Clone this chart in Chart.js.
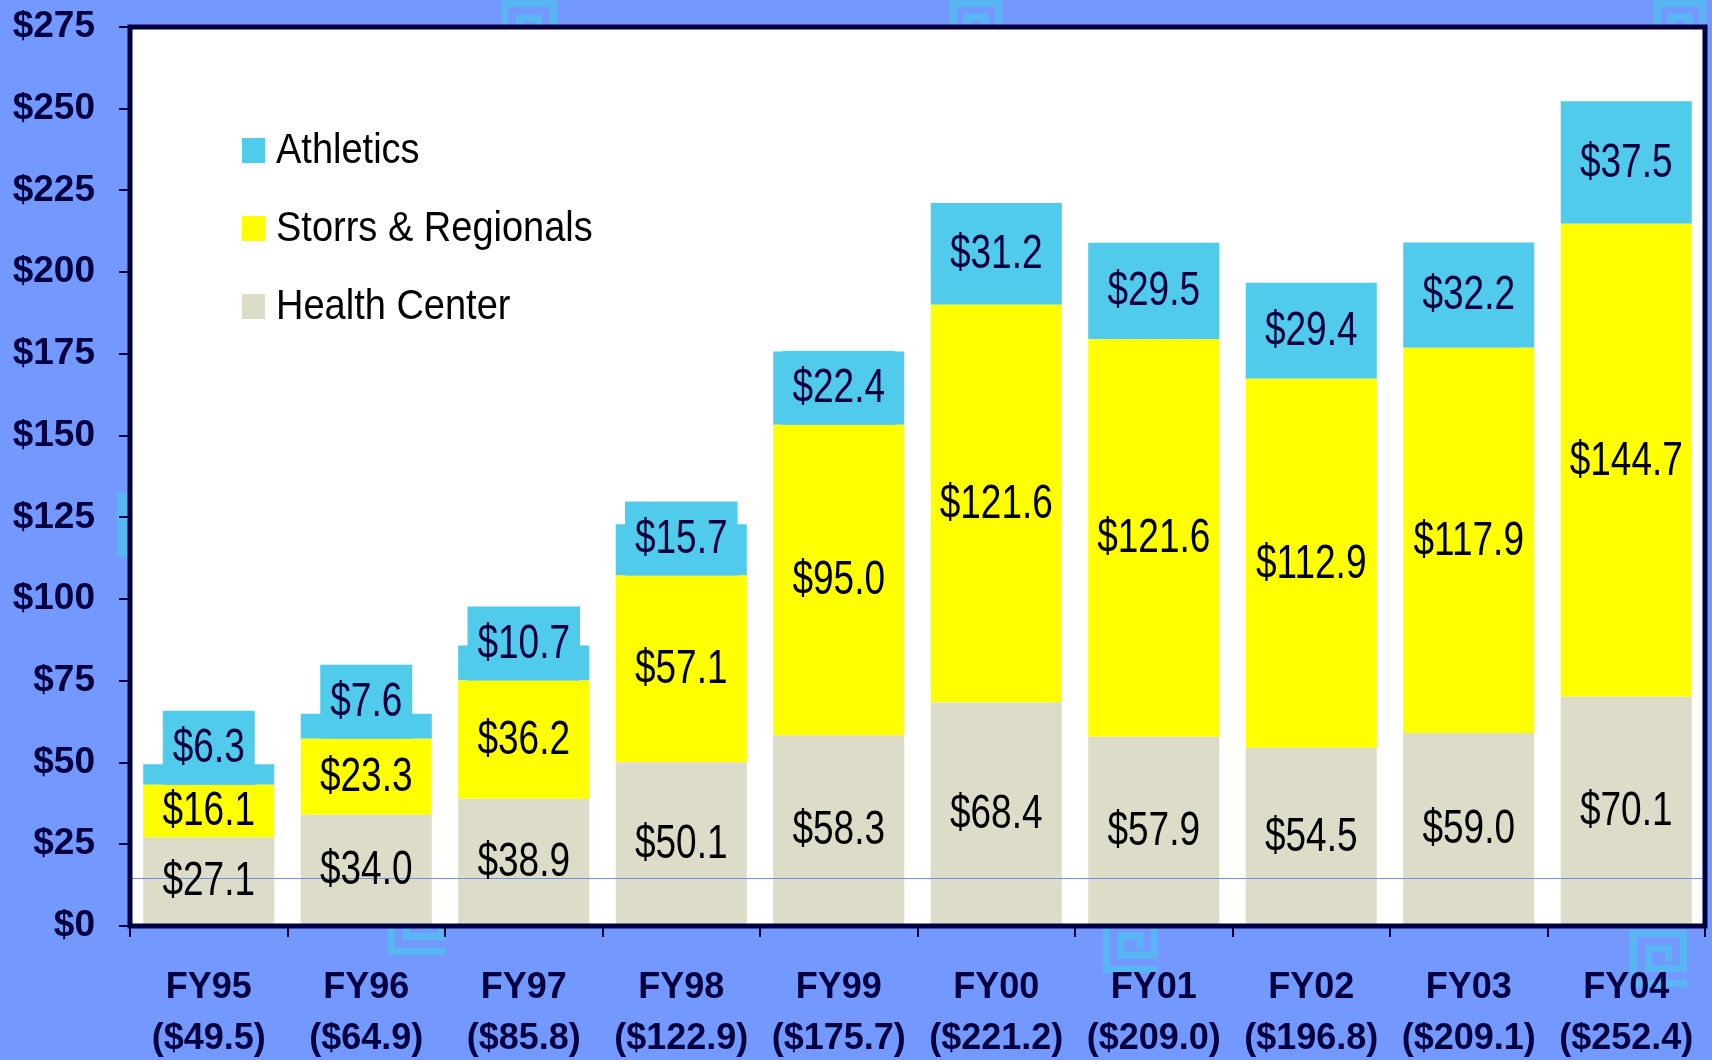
<!DOCTYPE html>
<html>
<head>
<meta charset="utf-8">
<script src="https://cdn.jsdelivr.net/npm/chart.js@4/dist/chart.umd.min.js"></script>
<style>
  html,body{margin:0;padding:0;background:#7399ff;overflow:hidden}
  canvas{display:block}
</style>
</head>
<body>
<canvas id="chart" width="1712" height="1060"></canvas>
<script>
// === DATA ===
const categories      = ['FY95','FY96','FY97','FY98','FY99','FY00','FY01','FY02','FY03','FY04'];
const totalLabels     = ['($49.5)','($64.9)','($85.8)','($122.9)','($175.7)','($221.2)','($209.0)','($196.8)','($209.1)','($252.4)'];
const healthCenter    = [27.1, 34.0, 38.9, 50.1, 58.3, 68.4, 57.9, 54.5, 59.0, 70.1];
const storrsRegionals = [16.1, 23.3, 36.2, 57.1, 95.0, 121.6, 121.6, 112.9, 117.9, 144.7];
const athletics       = [6.3, 7.6, 10.7, 15.7, 22.4, 31.2, 29.5, 29.4, 32.2, 37.5];
const yMin = 0, yMax = 275, yStep = 25;
const stripeValue = 14.7;   // thin blue line across the plot in the original

// Colors / fonts
const NAVY = '#000040';
const BG = '#7399ff';
const DECOR = '#58b6f2';
const FONT = "'Liberation Sans', Arial, sans-serif";
const COLORS = { athletics:'#50cbeb', storrs:'#ffff00', health:'#dddcc8' };

// Background greek-key bits (decoration only)
const decorKeys = [[501,0,56],[950,0,52],[1654,0,52],[388,898,57],[1103,918,55],[1630,930,57]];
const decorBars = [[117,493,10,64]];

function greekKey(ctx, x, y, s){
  ctx.beginPath();
  ctx.moveTo(x+s, y+s); ctx.lineTo(x, y+s); ctx.lineTo(x, y); ctx.lineTo(x+s, y);
  ctx.lineTo(x+s, y+0.7*s); ctx.lineTo(x+0.3*s, y+0.7*s); ctx.lineTo(x+0.3*s, y+0.3*s);
  ctx.lineTo(x+0.7*s, y+0.3*s); ctx.lineTo(x+0.7*s, y+0.5*s);
  ctx.stroke();
}

// text with a bit of vertical stretch (original slide is squeezed)
function stretchText(ctx, txt, x, y, sy){
  ctx.save(); ctx.translate(x, y); ctx.scale(1, sy); ctx.fillText(txt, 0, 0); ctx.restore();
}

// fixed axis sizes, no extra label padding around the plot
function fixSize(prop, val){
  return (s)=>{ s[prop] = val; s.paddingTop = s.paddingBottom = s.paddingLeft = s.paddingRight = 0; };
}

// Background, decor, white plot area
const backdrop = {
  id:'backdrop',
  beforeDraw(chart){
    const {ctx, chartArea:a, width, height} = chart;
    ctx.save();
    ctx.fillStyle = BG; ctx.fillRect(0, 0, width, height);
    ctx.strokeStyle = DECOR; ctx.lineWidth = 7; ctx.lineCap = 'square';
    decorKeys.forEach(([x,y,s]) => greekKey(ctx, x+3.5, y+3.5, s-7));
    ctx.fillStyle = DECOR;
    decorBars.forEach(([x,y,w,h]) => ctx.fillRect(x, y, w, h));
    ctx.fillStyle = '#ffffff'; ctx.fillRect(a.left, a.top, a.right-a.left, a.bottom-a.top);
    ctx.restore();
  }
};

// Stripe, value labels, frame, legend
const overlay = {
  id:'overlay',
  afterDatasetsDraw(chart){
    const {ctx, chartArea:a, scales} = chart;
    ctx.save();
    const sy = Math.round(scales.y.getPixelForValue(stripeValue)) + 0.5;
    ctx.strokeStyle = '#6a92ff'; ctx.lineWidth = 1.2;
    ctx.beginPath(); ctx.moveTo(a.left, sy); ctx.lineTo(a.right, sy); ctx.stroke();

    ctx.font = `37px ${FONT}`;
    ctx.textAlign = 'center'; ctx.textBaseline = 'middle';
    chart.data.datasets.forEach((ds, di) => {
      chart.getDatasetMeta(di).data.forEach((bar, i) => {
        const txt = '$' + ds.data[i].toFixed(1);
        let cy = (bar.y + bar.base) / 2;
        if (ds.boxLabel){
          const w = ctx.measureText(txt).width + 20, h = 74;
          cy = Math.min(cy, bar.base - h/2);
          ctx.fillStyle = ds.backgroundColor;
          ctx.fillRect(bar.x - w/2, cy - h/2, w, h);
          ctx.fillStyle = NAVY;
        } else ctx.fillStyle = '#000000';
        stretchText(ctx, txt, bar.x, cy + 1, 1.3);
      });
    });
    ctx.restore();
  },
  afterDraw(chart){
    const {ctx, chartArea:a} = chart;
    ctx.save();
    ctx.strokeStyle = NAVY; ctx.lineWidth = 5;
    ctx.strokeRect(a.left, a.top, a.right-a.left, a.bottom-a.top);

    // legend (top series first)
    ctx.font = `38px ${FONT}`;
    ctx.textAlign = 'left'; ctx.textBaseline = 'middle';
    [2,1,0].forEach((di, row) => {
      const ds = chart.data.datasets[di];
      const cy = 150 + row * 78;
      ctx.fillStyle = ds.backgroundColor; ctx.fillRect(242, cy-12, 23, 25);
      ctx.fillStyle = '#000000';
      stretchText(ctx, ds.label, 276, cy + 1, 1.12);
    });
    ctx.restore();
  }
};

new Chart(document.getElementById('chart'), {
  type:'bar',
  data:{
    labels: categories.map((c,i)=>[c, totalLabels[i]]),
    datasets:[
      { label:'Health Center', data:healthCenter, backgroundColor:COLORS.health },
      { label:'Storrs & Regionals', data:storrsRegionals, backgroundColor:COLORS.storrs },
      { label:'Athletics', data:athletics, backgroundColor:COLORS.athletics, boxLabel:true }
    ]
  },
  options:{
    responsive:false, animation:false,
    categoryPercentage:1, barPercentage:0.832,
    layout:{ padding:{ top:27, right:7, left:0, bottom:0 } },
    plugins:{ legend:{ display:false }, tooltip:{ enabled:false } },
    scales:{
      x:{
        stacked:true,
        afterFit: fixSize('height', 134),
        border:{ display:false },
        grid:{ drawOnChartArea:false, color:NAVY, lineWidth:2, tickLength:11 },
        ticks:{ color:NAVY, padding:26, maxRotation:0, autoSkip:false,
                font:{ family:FONT, size:36, weight:'bold', lineHeight:1.4 } }
      },
      y:{
        stacked:true, min:yMin, max:yMax,
        afterFit: fixSize('width', 130),
        border:{ display:false },
        grid:{ drawOnChartArea:false, color:NAVY, lineWidth:2, tickLength:11 },
        ticks:{ stepSize:yStep, color:NAVY, padding:24,
                font:{ family:FONT, size:37, weight:'bold' },
                callback:(v)=>'$' + v }
      }
    }
  },
  plugins:[backdrop, overlay]
});
</script>
</body>
</html>
